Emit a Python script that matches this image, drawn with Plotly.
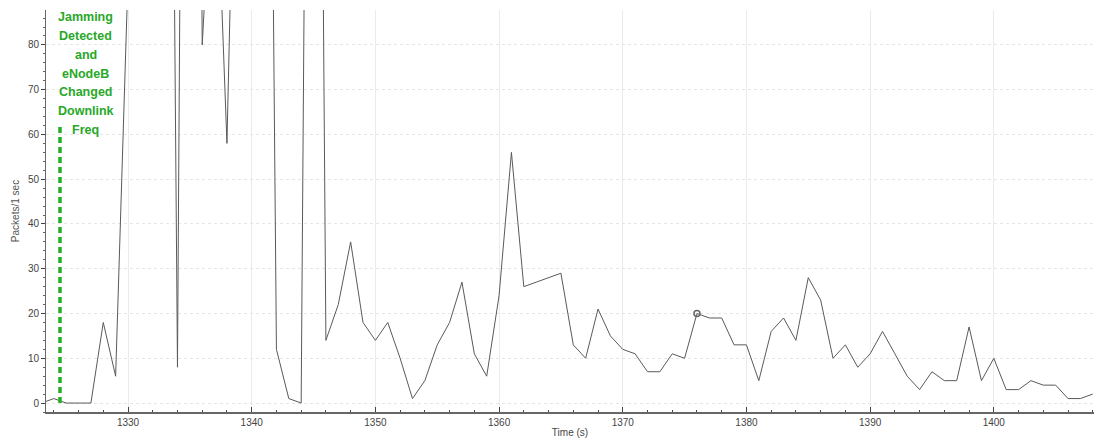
import plotly.graph_objects as go

time_s = list(range(1323, 1409))
packets = [0, 1, 0, 0, 0, 18, 6, 95, 300, 400, 350, 8, 440, 80, 132, 58, 200, 300, 325, 12,
           1, 0, 380, 14, 22, 36, 18, 14, 18, 10, 1, 5, 13, 18, 27, 11, 6, 24, 56, 26,
           27, 28, 29, 13, 10, 21, 15, 12, 11, 7, 7, 11, 10, 20, 19, 19, 13, 13, 5, 16,
           19, 14, 28, 23, 10, 13, 8, 11, 16, 11, 6, 3, 7, 5, 5, 17, 5, 10, 3, 3,
           5, 4, 4, 1, 1, 2]

marker_t = [1376]
marker_v = [20]

event_t = [1324.5, 1324.5]
event_v = [0, 62]

note_lines = ["Jamming", "Detected", "and", "eNodeB", "Changed", "Downlink", "Freq"]
note_x = 1326.6
note_top = 86.2
note_step = 4.2

fig = go.Figure()
fig.add_trace(go.Scatter(x=time_s, y=packets, mode="lines",
                         line=dict(color="#5a5a5a", width=1), showlegend=False))
fig.add_trace(go.Scatter(x=marker_t, y=marker_v, mode="markers",
                         marker=dict(symbol="circle-open", size=6, color="#666",
                                     line=dict(width=1.5)), showlegend=False))
fig.add_trace(go.Scatter(x=event_t, y=event_v, mode="lines",
                         line=dict(color="#22b022", width=3.5, dash="6px,4px"),
                         showlegend=False))

for i, t in enumerate(note_lines):
    fig.add_annotation(x=note_x, y=note_top - i * note_step, text="<b>%s</b>" % t,
                       showarrow=False, font=dict(family="Arial, Liberation Sans", size=12.5,
                                                  color="#28a828"),
                       xanchor="center", yanchor="middle")

fig.update_layout(
    width=1094, height=441,
    margin=dict(l=46, r=0, t=10, b=29),
    plot_bgcolor="white", paper_bgcolor="white",
    font=dict(family="Arial, Liberation Sans", size=10, color="#444"),
)
fig.update_xaxes(range=[1323.37, 1408.1], dtick=10, tick0=1320,
                 showline=True, linecolor="#666", linewidth=1.5,
                 ticks="inside", ticklen=5, tickcolor="#444",
                 minor=dict(dtick=2, ticks="inside", ticklen=2, tickcolor="#444", showgrid=False),
                 showgrid=True, gridcolor="#ebebeb", gridwidth=1,
                 zeroline=False, tickfont=dict(size=10, color="#444"),
                 title=dict(text="Time (s)", font=dict(size=10, color="#444"), standoff=2))
fig.update_yaxes(range=[-2.0, 87.8], dtick=10, tick0=0,
                 showline=True, linecolor="#666", linewidth=1,
                 ticks="outside", ticklen=4, tickcolor="#444",
                 minor=dict(dtick=2, ticks="outside", ticklen=2, tickcolor="#666", showgrid=False),
                 showgrid=True, gridcolor="#e6e6e6", gridwidth=1, griddash="dot",
                 zeroline=False, tickfont=dict(size=10, color="#444"),
                 title=dict(text="Packets/1 sec", font=dict(size=10, color="#555"), standoff=6))

fig.write_html("out.html")
